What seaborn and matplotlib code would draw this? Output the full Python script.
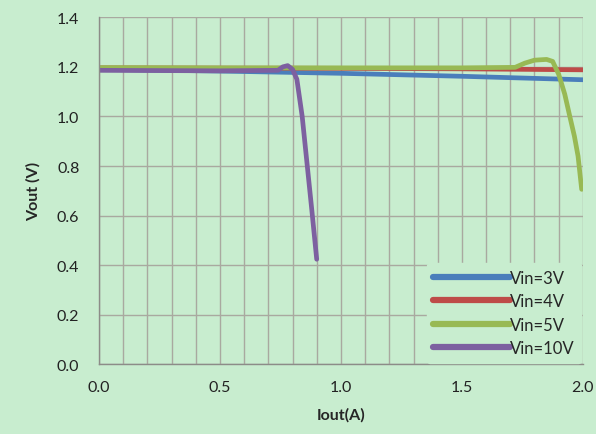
import pandas as pd
import numpy as np
import matplotlib
matplotlib.use("Agg")
import matplotlib.pyplot as plt
import seaborn as sns

# Data
iout_3v = [0.0, 0.5, 1.0, 1.5, 2.0]
vout_3v = [1.19, 1.183, 1.174, 1.162, 1.148]

iout_4v = [0.0, 0.5, 1.0, 1.5, 2.0]
vout_4v = [1.196, 1.195, 1.194, 1.192, 1.188]

iout_5v = [0.0, 0.5, 1.0, 1.5, 1.72, 1.76, 1.8, 1.85, 1.875, 1.9, 1.925, 1.946, 1.965, 1.98, 1.995]
vout_5v = [1.197, 1.196, 1.196, 1.196, 1.198, 1.215, 1.227, 1.23, 1.222, 1.17, 1.09, 1.0, 0.92, 0.84, 0.706]

iout_10v = [0.0, 0.5, 0.74, 0.76, 0.78, 0.80, 0.818, 0.84, 0.86, 0.88, 0.90]
vout_10v = [1.186, 1.184, 1.186, 1.2, 1.205, 1.19, 1.15, 1.0, 0.81, 0.62, 0.424]

series_labels = ["Vin=3V", "Vin=4V", "Vin=5V", "Vin=10V"]
colors = ["#4A7EBB", "#BE4B48", "#98B954", "#7D60A0"]

frames = []
for lab, xs, ys in zip(series_labels,
                       [iout_3v, iout_4v, iout_5v, iout_10v],
                       [vout_3v, vout_4v, vout_5v, vout_10v]):
    frames.append(pd.DataFrame({"Iout": xs, "Vout": ys, "series": lab}))
df = pd.concat(frames, ignore_index=True)

bg = "#C8EDCF"
sns.set_theme(style="white")
plt.rcParams["font.family"] = ["Lato", "DejaVu Sans"]

fig, ax = plt.subplots(figsize=(5.96, 4.35), dpi=100)
fig.patch.set_facecolor(bg)
ax.set_facecolor(bg)

sns.lineplot(data=df, x="Iout", y="Vout", hue="series", hue_order=series_labels,
             palette=colors, sort=False, estimator=None, linewidth=3.4, ax=ax)
for line in ax.get_lines():
    line.set_solid_joinstyle("round")
    line.set_solid_capstyle("round")

ax.set_xlim(0, 2.0)
ax.set_ylim(0, 1.4)
ax.set_xticks(np.arange(0, 2.01, 0.5))
ax.set_xticks(np.arange(0, 2.01, 0.1), minor=True)
ax.set_yticks(np.arange(0, 1.41, 0.2))
ax.xaxis.set_major_formatter(matplotlib.ticker.FormatStrFormatter("%.1f"))
ax.yaxis.set_major_formatter(matplotlib.ticker.FormatStrFormatter("%.1f"))

ax.grid(True, which="both", axis="x", color="#A9A9A0", linewidth=1.0)
ax.grid(True, which="major", axis="y", color="#A9A9A0", linewidth=1.0)
ax.set_axisbelow(True)

for s in ["top", "right"]:
    ax.spines[s].set_visible(False)
for s in ["left", "bottom"]:
    ax.spines[s].set_color("#8C8C88")
    ax.spines[s].set_linewidth(1.0)

ax.tick_params(axis="both", which="major", labelsize=11.5, colors="#555555",
               length=4, direction="out", width=0.8, labelcolor="#222222")
ax.tick_params(axis="x", which="minor", length=0)
ax.tick_params(axis="x", pad=7)
ax.tick_params(axis="y", pad=10)

ax.set_xlabel("Iout(A)", fontsize=11.5, fontweight="bold", labelpad=10)
ax.set_ylabel("Vout (V)", fontsize=11.5, fontweight="bold", labelpad=12)

leg = ax.legend(loc="lower right", frameon=True, fontsize=12, handlelength=4.6,
                handletextpad=0.0, labelspacing=0.45, borderaxespad=0.1,
                borderpad=0.4)
leg.get_frame().set_facecolor(bg)
leg.get_frame().set_edgecolor(bg)
leg.get_frame().set_alpha(1.0)
for line in leg.get_lines():
    line.set_linewidth(4.5)
    line.set_solid_capstyle("round")

fig.subplots_adjust(left=0.166, right=0.978, bottom=0.16, top=0.958)
fig.savefig("out.png", dpi=100, facecolor=bg)
